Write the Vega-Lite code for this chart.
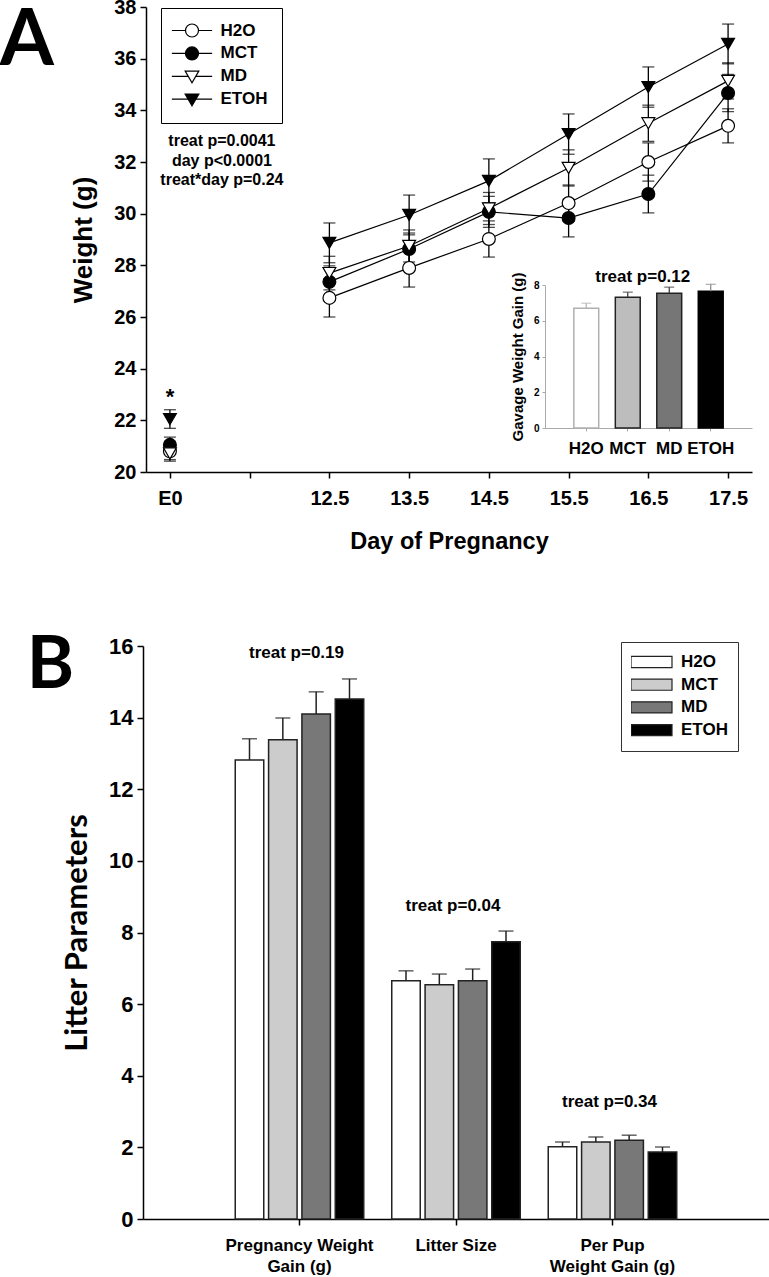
{
  "$schema": "https://vega.github.io/schema/vega-lite/v6.json",
  "width": 769,
  "height": 1277,
  "autosize": {"type": "none"},
  "padding": 0,
  "background": "white",
  "config": {
    "view": {"stroke": null},
    "font": "Liberation Sans",
    "axis": {"grid": false, "domainColor": "black", "tickColor": "black", "labelColor": "black", "titleColor": "black", "labelFont": "Liberation Sans", "titleFont": "Liberation Sans", "labelFontWeight": "bold", "titleFontWeight": "bold", "domainWidth": 1.5, "tickWidth": 1.5},
    "legend": {"labelFont": "Liberation Sans", "labelFontWeight": "bold", "labelColor": "black"}
  },
  "datasets": {
    "weights": [
      {"treat": "H2O", "day": "E0", "weight": 20.8, "sem": 0.32},
      {"treat": "MCT", "day": "E0", "weight": 21.05, "sem": 0.3},
      {"treat": "MD", "day": "E0", "weight": 20.72, "sem": 0.3},
      {"treat": "ETOH", "day": "E0", "weight": 22.05, "sem": 0.36},
      {"treat": "H2O", "day": "12.5", "weight": 26.74, "sem": 0.74},
      {"treat": "MCT", "day": "12.5", "weight": 27.36, "sem": 0.62},
      {"treat": "MD", "day": "12.5", "weight": 27.7, "sem": 0.65},
      {"treat": "ETOH", "day": "12.5", "weight": 28.87, "sem": 0.77},
      {"treat": "H2O", "day": "13.5", "weight": 27.9, "sem": 0.74},
      {"treat": "MCT", "day": "13.5", "weight": 28.63, "sem": 0.62},
      {"treat": "MD", "day": "13.5", "weight": 28.75, "sem": 0.62},
      {"treat": "ETOH", "day": "13.5", "weight": 29.95, "sem": 0.77},
      {"treat": "H2O", "day": "14.5", "weight": 29.02, "sem": 0.7},
      {"treat": "MCT", "day": "14.5", "weight": 30.07, "sem": 0.6},
      {"treat": "MD", "day": "14.5", "weight": 30.2, "sem": 0.62},
      {"treat": "ETOH", "day": "14.5", "weight": 31.27, "sem": 0.85},
      {"treat": "H2O", "day": "15.5", "weight": 30.41, "sem": 0.7},
      {"treat": "MCT", "day": "15.5", "weight": 29.83, "sem": 0.73},
      {"treat": "MD", "day": "15.5", "weight": 31.77, "sem": 0.7},
      {"treat": "ETOH", "day": "15.5", "weight": 33.08, "sem": 0.78},
      {"treat": "H2O", "day": "16.5", "weight": 32.0, "sem": 0.74},
      {"treat": "MCT", "day": "16.5", "weight": 30.76, "sem": 0.73},
      {"treat": "MD", "day": "16.5", "weight": 33.5, "sem": 0.7},
      {"treat": "ETOH", "day": "16.5", "weight": 34.9, "sem": 0.78},
      {"treat": "H2O", "day": "17.5", "weight": 33.4, "sem": 0.66},
      {"treat": "MCT", "day": "17.5", "weight": 34.67, "sem": 0.72},
      {"treat": "MD", "day": "17.5", "weight": 35.14, "sem": 0.7},
      {"treat": "ETOH", "day": "17.5", "weight": 36.57, "sem": 0.77}
    ],
    "notesA": [
      {"label": "A", "day": "E0", "weight": 35.76, "kind": "letter"},
      {"label": "*", "day": "E0", "weight": 22.9, "kind": "star"},
      {"label": "treat p=0.0041", "day": "E0", "weight": 32.8, "kind": "stat"},
      {"label": "day p<0.0001", "day": "E0", "weight": 32.04, "kind": "stat"},
      {"label": "treat*day p=0.24", "day": "E0", "weight": 31.3, "kind": "stat"}
    ],
    "gavage": [
      {"treat": "H2O", "gain": 6.7, "upper": 6.98},
      {"treat": "MCT", "gain": 7.32, "upper": 7.6},
      {"treat": "MD", "gain": 7.54, "upper": 7.88},
      {"treat": "ETOH", "gain": 7.65, "upper": 8.04}
    ],
    "notesI": [
      {"label": "treat p=0.12", "treat": "MCT", "gain": 8.45}
    ],
    "litter": [
      {"measure": "Pregnancy Weight Gain (g)", "treat": "H2O", "value": 12.82, "upper": 13.41},
      {"measure": "Pregnancy Weight Gain (g)", "treat": "MCT", "value": 13.38, "upper": 13.99},
      {"measure": "Pregnancy Weight Gain (g)", "treat": "MD", "value": 14.1, "upper": 14.72},
      {"measure": "Pregnancy Weight Gain (g)", "treat": "ETOH", "value": 14.52, "upper": 15.08},
      {"measure": "Litter Size", "treat": "H2O", "value": 6.65, "upper": 6.93},
      {"measure": "Litter Size", "treat": "MCT", "value": 6.54, "upper": 6.84},
      {"measure": "Litter Size", "treat": "MD", "value": 6.65, "upper": 6.98},
      {"measure": "Litter Size", "treat": "ETOH", "value": 7.74, "upper": 8.04},
      {"measure": "Per Pup Weight Gain (g)", "treat": "H2O", "value": 2.02, "upper": 2.15},
      {"measure": "Per Pup Weight Gain (g)", "treat": "MCT", "value": 2.15, "upper": 2.29},
      {"measure": "Per Pup Weight Gain (g)", "treat": "MD", "value": 2.2, "upper": 2.34},
      {"measure": "Per Pup Weight Gain (g)", "treat": "ETOH", "value": 1.87, "upper": 2.01}
    ],
    "notesB": [
      {"label": "treat p=0.19", "measure": "Pregnancy Weight Gain (g)", "value": 15.8, "kind": "stat"},
      {"label": "treat p=0.04", "measure": "Litter Size", "value": 8.74, "kind": "stat"},
      {"label": "treat p=0.34", "measure": "Per Pup Weight Gain (g)", "value": 3.27, "kind": "stat"},
      {"label": "B", "measure": "Pregnancy Weight Gain (g)", "value": 15.45, "kind": "letter"}
    ]
  },
  "layer": [
    {
      "data": {"name": "weights"},
      "transform": [{"filter": "datum.day != 'E0'"}],
      "mark": {"type": "line", "color": "black", "strokeWidth": 1.2},
      "encoding": {
        "x": {"field": "day", "type": "ordinal", "scale": {"type": "point", "domain": ["E0", "gap", "12.5", "13.5", "14.5", "15.5", "16.5", "17.5"], "range": [146, 752], "padding": 0.3},
          "axis": {"orient": "bottom", "offset": -805, "title": "Day of Pregnancy", "titleFontSize": 23.5, "titlePadding": 21, "labelFontSize": 20, "labelPadding": 10, "tickSize": 6, "labelAngle": 0, "labelExpr": "datum.value == 'gap' ? '' : datum.value"}},
        "y": {"field": "weight", "type": "quantitative", "scale": {"type": "linear", "domain": [20, 38], "range": [472, 7], "nice": false, "zero": false},
          "axis": {"orient": "left", "offset": -146, "values": [20, 22, 24, 26, 28, 30, 32, 34, 36, 38], "title": "Weight (g)", "titleFontSize": 26, "titlePadding": 17, "labelFontSize": 20, "labelPadding": 4, "tickSize": 6}},
        "detail": {"field": "treat"}
      }
    },
    {
      "data": {"name": "weights"},
      "mark": {"type": "errorbar", "ticks": {"size": 12, "thickness": 1.3, "color": "black"}, "thickness": 1.3, "color": "black"},
      "encoding": {
        "x": {"field": "day", "type": "ordinal", "scale": {"type": "point", "domain": ["E0", "gap", "12.5", "13.5", "14.5", "15.5", "16.5", "17.5"], "range": [146, 752], "padding": 0.3}, "axis": null},
        "y": {"field": "weight", "type": "quantitative", "scale": {"type": "linear", "domain": [20, 38], "range": [472, 7], "nice": false, "zero": false}, "axis": null},
        "yError": {"field": "sem"}
      }
    },
    {
      "data": {"name": "weights"},
      "mark": {"type": "point", "filled": true, "stroke": "black", "strokeWidth": 1.2, "size": 165, "opacity": 1},
      "encoding": {
        "x": {"field": "day", "type": "ordinal", "scale": {"type": "point", "domain": ["E0", "gap", "12.5", "13.5", "14.5", "15.5", "16.5", "17.5"], "range": [146, 752], "padding": 0.3}, "axis": null},
        "y": {"field": "weight", "type": "quantitative", "scale": {"type": "linear", "domain": [20, 38], "range": [472, 7], "nice": false, "zero": false}, "axis": null},
        "shape": {"field": "treat", "type": "nominal", "scale": {"domain": ["H2O", "MCT", "MD", "ETOH"], "range": ["circle", "circle", "triangle-down", "triangle-down"]}, "legend": null},
        "fill": {"field": "treat", "type": "nominal", "scale": {"domain": ["H2O", "MCT", "MD", "ETOH"], "range": ["white", "black", "white", "black"]}, "legend": null}
      }
    },
    {
      "data": {"name": "weights"},
      "transform": [{"filter": "datum.day == '17.5'"}],
      "mark": {"type": "point", "filled": true, "stroke": "black", "strokeWidth": 1.2, "size": 150, "opacity": 0},
      "encoding": {
        "x": {"field": "day", "type": "ordinal", "scale": {"type": "point", "domain": ["E0", "gap", "12.5", "13.5", "14.5", "15.5", "16.5", "17.5"], "range": [146, 752], "padding": 0.3}, "axis": null},
        "y": {"field": "weight", "type": "quantitative", "scale": {"type": "linear", "domain": [20, 38], "range": [472, 7], "nice": false, "zero": false}, "axis": null},
        "shape": {"field": "treat", "type": "nominal", "scale": {"domain": ["H2O", "MCT", "MD", "ETOH"], "range": ["M-3.1,0L-1,0M1,0L3.1,0M1,0A1,1,0,1,1,-1,0A1,1,0,1,1,1,0Z", "M-3.1,0L-1,0M1,0L3.1,0M1,0A1,1,0,1,1,-1,0A1,1,0,1,1,1,0Z", "M-3.1,0L-0.58,0M0.58,0L3.1,0M-1.05,-0.8L1.05,-0.8L0,1Z", "M-3.1,0L-0.58,0M0.58,0L3.1,0M-1.05,-0.8L1.05,-0.8L0,1Z"]},
          "legend": {"orient": "none", "legendX": 161, "legendY": 8, "title": null, "symbolSize": 169, "symbolStrokeColor": "black", "symbolStrokeWidth": 1.2, "symbolOpacity": 1, "padding": 14, "rowPadding": 3.9, "labelFontSize": 17, "labelOffset": 20, "symbolOffset": 8.5, "strokeColor": "black", "fillColor": "white",
            "encode": {"symbols": {"update": {"stroke": {"value": "black"}, "strokeWidth": {"value": 1.2}, "opacity": {"value": 1}}}}}},
        "fill": {"field": "treat", "type": "nominal", "scale": {"domain": ["H2O", "MCT", "MD", "ETOH"], "range": ["white", "black", "white", "black"]},
          "legend": {"orient": "none", "legendX": 161, "legendY": 8, "title": null, "symbolSize": 169, "symbolStrokeColor": "black", "symbolStrokeWidth": 1.2, "symbolOpacity": 1, "padding": 14, "rowPadding": 3.9, "labelFontSize": 17, "labelOffset": 20, "symbolOffset": 8.5, "strokeColor": "black", "fillColor": "white",
            "encode": {"symbols": {"update": {"stroke": {"value": "black"}, "strokeWidth": {"value": 1.2}, "opacity": {"value": 1}}}}}}
      }
    },
    {
      "data": {"name": "notesA"},
      "transform": [{"filter": "datum.kind == 'stat'"}],
      "mark": {"type": "text", "font": "Liberation Sans", "fontWeight": "bold", "fontSize": 16, "dx": 52, "align": "center", "baseline": "middle", "color": "black"},
      "encoding": {
        "x": {"field": "day", "type": "ordinal", "scale": {"type": "point", "domain": ["E0", "gap", "12.5", "13.5", "14.5", "15.5", "16.5", "17.5"], "range": [146, 752], "padding": 0.3}, "axis": null},
        "y": {"field": "weight", "type": "quantitative", "scale": {"type": "linear", "domain": [20, 38], "range": [472, 7], "nice": false, "zero": false}, "axis": null},
        "text": {"field": "label"}
      }
    },
    {
      "data": {"name": "notesA"},
      "transform": [{"filter": "datum.kind == 'star'"}],
      "mark": {"type": "text", "font": "Liberation Sans", "fontWeight": "bold", "fontSize": 22, "align": "center", "baseline": "middle", "color": "black"},
      "encoding": {
        "x": {"field": "day", "type": "ordinal", "scale": {"type": "point", "domain": ["E0", "gap", "12.5", "13.5", "14.5", "15.5", "16.5", "17.5"], "range": [146, 752], "padding": 0.3}, "axis": null},
        "y": {"field": "weight", "type": "quantitative", "scale": {"type": "linear", "domain": [20, 38], "range": [472, 7], "nice": false, "zero": false}, "axis": null},
        "text": {"field": "label"}
      }
    },
    {
      "data": {"name": "notesA"},
      "transform": [{"filter": "datum.kind == 'letter'"}],
      "mark": {"type": "text", "font": "Lato", "fontWeight": "bold", "fontSize": 78, "dx": -143, "align": "center", "baseline": "alphabetic", "color": "black"},
      "encoding": {
        "x": {"field": "day", "type": "ordinal", "scale": {"type": "point", "domain": ["E0", "gap", "12.5", "13.5", "14.5", "15.5", "16.5", "17.5"], "range": [146, 752], "padding": 0.3}, "axis": null},
        "y": {"field": "weight", "type": "quantitative", "scale": {"type": "linear", "domain": [20, 38], "range": [472, 7], "nice": false, "zero": false}, "axis": null},
        "text": {"field": "label"}
      }
    },
    {
      "data": {"name": "gavage"},
      "mark": {"type": "bar", "strokeWidth": 1.5},
      "encoding": {
        "x": {"field": "treat", "type": "nominal", "scale": {"type": "band", "domain": ["H2O", "MCT", "MD", "ETOH"], "range": [545, 752], "paddingInner": 0.4, "paddingOuter": 0.695},
          "axis": {"orient": "bottom", "offset": -849, "title": null, "labelFontSize": 17, "labelPadding": 9, "tickSize": 3, "labelAngle": 0, "domainColor": "#aaaaaa", "tickColor": "#aaaaaa", "domainWidth": 1, "tickWidth": 1}},
        "y": {"field": "gain", "type": "quantitative", "scale": {"type": "linear", "domain": [0, 8], "range": [428, 285], "nice": false},
          "axis": {"orient": "left", "offset": -545, "values": [0, 2, 4, 6, 8], "title": "Gavage Weight Gain (g)", "titleFontSize": 15, "titlePadding": 8, "labelFontSize": 10, "labelPadding": 3, "tickSize": 3, "domainColor": "#aaaaaa", "tickColor": "#aaaaaa", "domainWidth": 1, "tickWidth": 1}},
        "fill": {"field": "treat", "type": "nominal", "scale": {"domain": ["H2O", "MCT", "MD", "ETOH"], "range": ["#ffffff", "#bdbdbd", "#767676", "#000000"]}, "legend": null},
        "stroke": {"field": "treat", "type": "nominal", "scale": {"domain": ["H2O", "MCT", "MD", "ETOH"], "range": ["#b0b0b0", "#222222", "#222222", "#000000"]}, "legend": null}
      }
    },
    {
      "data": {"name": "gavage"},
      "mark": {"type": "rule", "strokeWidth": 1.2},
      "encoding": {
        "x": {"field": "treat", "type": "nominal", "scale": {"type": "band", "domain": ["H2O", "MCT", "MD", "ETOH"], "range": [545, 752], "paddingInner": 0.4, "paddingOuter": 0.695}, "axis": null},
        "y": {"field": "gain", "type": "quantitative", "scale": {"type": "linear", "domain": [0, 8], "range": [428, 285], "nice": false}, "axis": null},
        "y2": {"field": "upper"},
        "stroke": {"field": "treat", "type": "nominal", "scale": {"domain": ["H2O", "MCT", "MD", "ETOH"], "range": ["#b0b0b0", "#333333", "#333333", "#888888"]}, "legend": null}
      }
    },
    {
      "data": {"name": "gavage"},
      "mark": {"type": "tick", "size": 10, "thickness": 1.2},
      "encoding": {
        "x": {"field": "treat", "type": "nominal", "scale": {"type": "band", "domain": ["H2O", "MCT", "MD", "ETOH"], "range": [545, 752], "paddingInner": 0.4, "paddingOuter": 0.695}, "axis": null},
        "y": {"field": "upper", "type": "quantitative", "scale": {"type": "linear", "domain": [0, 8], "range": [428, 285], "nice": false}, "axis": null},
        "color": {"field": "treat", "type": "nominal", "scale": {"domain": ["H2O", "MCT", "MD", "ETOH"], "range": ["#b0b0b0", "#333333", "#333333", "#888888"]}, "legend": null}
      }
    },
    {
      "data": {"name": "notesI"},
      "mark": {"type": "text", "font": "Liberation Sans", "fontWeight": "bold", "fontSize": 17, "dx": 15, "align": "center", "baseline": "middle", "color": "black"},
      "encoding": {
        "x": {"field": "treat", "type": "nominal", "scale": {"type": "band", "domain": ["H2O", "MCT", "MD", "ETOH"], "range": [545, 752], "paddingInner": 0.4, "paddingOuter": 0.695}, "axis": null},
        "y": {"field": "gain", "type": "quantitative", "scale": {"type": "linear", "domain": [0, 8], "range": [428, 285], "nice": false}, "axis": null},
        "text": {"field": "label"}
      }
    },
    {
      "data": {"name": "litter"},
      "mark": {"type": "bar", "stroke": "#222222", "strokeWidth": 1.5},
      "encoding": {
        "x": {"field": "measure", "type": "nominal", "scale": {"type": "band", "domain": ["Pregnancy Weight Gain (g)", "Litter Size", "Per Pup Weight Gain (g)"], "range": [143, 769], "paddingInner": 0, "paddingOuter": 0.5},
          "axis": {"orient": "bottom", "offset": -58, "title": null, "labelFontSize": 17, "labelPadding": 12, "tickSize": 6, "labelAngle": 0, "labelLineHeight": 21, "labelOverlap": false, "labelExpr": "datum.value == 'Pregnancy Weight Gain (g)' ? ['Pregnancy Weight', 'Gain (g)'] : datum.value == 'Per Pup Weight Gain (g)' ? ['Per Pup', 'Weight Gain (g)'] : datum.value"}},
        "xOffset": {"field": "treat", "type": "nominal", "scale": {"type": "band", "domain": ["H2O", "MCT", "MD", "ETOH"], "paddingInner": 0.145, "paddingOuter": 0.42}},
        "y": {"field": "value", "type": "quantitative", "scale": {"type": "linear", "domain": [0, 16], "range": [1219, 646], "nice": false},
          "axis": {"orient": "left", "offset": -143, "values": [0, 2, 4, 6, 8, 10, 12, 14, 16], "title": "Litter Parameters", "titleFont": "Lato", "titleFontSize": 31, "titlePadding": 15, "labelFontSize": 22, "labelPadding": 4, "tickSize": 6}},
        "fill": {"field": "treat", "type": "nominal", "scale": {"domain": ["H2O", "MCT", "MD", "ETOH"], "range": ["#ffffff", "#cccccc", "#787878", "#000000"]},
          "legend": {"orient": "none", "legendX": 621, "legendY": 642, "title": null, "symbolType": "M-1,-0.27L1,-0.27L1,0.27L-1,0.27Z", "symbolSize": 1681, "symbolStrokeColor": "#222222", "symbolStrokeWidth": 1.2, "clipHeight": 20, "rowPadding": 2.7, "padding": 10, "labelFontSize": 17, "labelOffset": 8, "symbolOffset": -1, "strokeColor": "#333333", "fillColor": "white"}}
      }
    },
    {
      "data": {"name": "litter"},
      "mark": {"type": "rule", "color": "#222222", "strokeWidth": 1.5},
      "encoding": {
        "x": {"field": "measure", "type": "nominal", "scale": {"type": "band", "domain": ["Pregnancy Weight Gain (g)", "Litter Size", "Per Pup Weight Gain (g)"], "range": [143, 769], "paddingInner": 0, "paddingOuter": 0.5}, "axis": null},
        "xOffset": {"field": "treat", "type": "nominal", "scale": {"type": "band", "domain": ["H2O", "MCT", "MD", "ETOH"], "paddingInner": 0.145, "paddingOuter": 0.42}},
        "y": {"field": "value", "type": "quantitative", "scale": {"type": "linear", "domain": [0, 16], "range": [1219, 646], "nice": false}, "axis": null},
        "y2": {"field": "upper"}
      }
    },
    {
      "data": {"name": "litter"},
      "mark": {"type": "tick", "color": "#222222", "size": 15, "thickness": 1.5},
      "encoding": {
        "x": {"field": "measure", "type": "nominal", "scale": {"type": "band", "domain": ["Pregnancy Weight Gain (g)", "Litter Size", "Per Pup Weight Gain (g)"], "range": [143, 769], "paddingInner": 0, "paddingOuter": 0.5}, "axis": null},
        "xOffset": {"field": "treat", "type": "nominal", "scale": {"type": "band", "domain": ["H2O", "MCT", "MD", "ETOH"], "paddingInner": 0.145, "paddingOuter": 0.42}},
        "y": {"field": "upper", "type": "quantitative", "scale": {"type": "linear", "domain": [0, 16], "range": [1219, 646], "nice": false}, "axis": null}
      }
    },
    {
      "data": {"name": "notesB"},
      "transform": [{"filter": "datum.kind == 'stat'"}],
      "mark": {"type": "text", "font": "Liberation Sans", "fontWeight": "bold", "fontSize": 17, "dx": -3, "align": "center", "baseline": "middle", "color": "black"},
      "encoding": {
        "x": {"field": "measure", "type": "nominal", "scale": {"type": "band", "domain": ["Pregnancy Weight Gain (g)", "Litter Size", "Per Pup Weight Gain (g)"], "range": [143, 769], "paddingInner": 0, "paddingOuter": 0.5}, "axis": null},
        "y": {"field": "value", "type": "quantitative", "scale": {"type": "linear", "domain": [0, 16], "range": [1219, 646], "nice": false}, "axis": null},
        "text": {"field": "label"}
      }
    },
    {
      "data": {"name": "notesB"},
      "transform": [{"filter": "datum.kind == 'letter'"}],
      "mark": {"type": "text", "font": "Lato", "fontWeight": "bold", "fontSize": 72, "dx": -249, "align": "center", "baseline": "middle", "color": "black"},
      "encoding": {
        "x": {"field": "measure", "type": "nominal", "scale": {"type": "band", "domain": ["Pregnancy Weight Gain (g)", "Litter Size", "Per Pup Weight Gain (g)"], "range": [143, 769], "paddingInner": 0, "paddingOuter": 0.5}, "axis": null},
        "y": {"field": "value", "type": "quantitative", "scale": {"type": "linear", "domain": [0, 16], "range": [1219, 646], "nice": false}, "axis": null},
        "text": {"field": "label"}
      }
    }
  ],
  "resolve": {
    "scale": {"x": "independent", "y": "independent", "xOffset": "independent", "shape": "independent", "fill": "independent", "stroke": "independent", "color": "independent"},
    "axis": {"x": "independent", "y": "independent"},
    "legend": {"shape": "independent", "fill": "independent", "stroke": "independent", "color": "independent"}
  }
}
